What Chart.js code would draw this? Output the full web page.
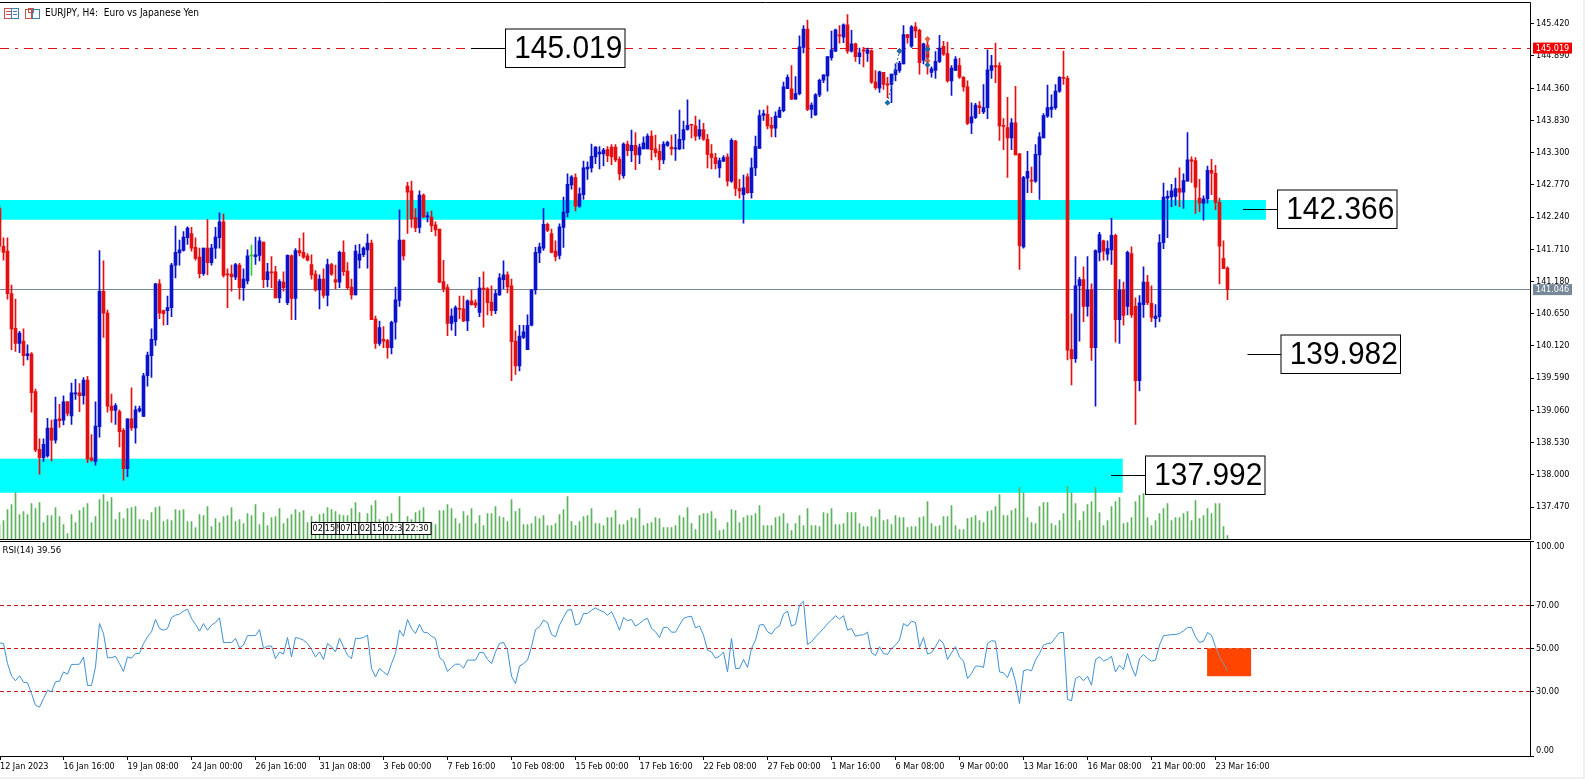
<!DOCTYPE html>
<html><head><meta charset="utf-8">
<style>
html,body{margin:0;padding:0;background:#f0f0f0;overflow:hidden}
#page{position:absolute;left:0;top:0;width:1583px;height:777px;background:#fff}
canvas{position:absolute;left:0}
</style>
<script src="https://cdn.jsdelivr.net/npm/chart.js@4"></script>
</head><body>
<div id="page"></div>
<canvas id="main" width="1585" height="541" style="top:0"></canvas>
<canvas id="rsi" width="1585" height="249" style="top:530px"></canvas>
<script>
const opens=[142.38,141.76,141.68,140.98,140.41,140.16,140.20,139.96,139.99,139.37,
138.42,138.28,138.31,138.77,138.57,138.92,138.90,139.20,138.97,139.33,
139.35,139.30,139.56,138.28,138.22,138.79,141.02,140.66,139.13,139.06,
139.04,138.73,138.10,138.92,138.77,139.05,138.96,139.63,139.96,140.22,
141.14,140.70,140.70,140.75,141.45,141.65,141.69,141.90,141.97,141.74,
141.58,141.31,141.73,141.49,141.73,141.90,142.16,141.30,141.30,141.25,
141.45,141.08,141.19,141.60,141.59,141.61,141.83,141.21,141.34,141.34,
140.91,141.17,140.83,141.60,140.90,141.69,141.66,141.60,141.46,141.30,
141.04,141.22,140.95,141.46,141.21,141.17,141.66,141.35,141.09,140.96,
141.53,141.62,141.70,141.81,140.56,140.16,140.23,140.21,140.09,140.51,
140.87,141.86,142.75,142.67,142.23,142.07,142.60,142.24,142.24,142.11,
142.04,141.18,141.08,140.49,140.52,140.74,140.73,140.53,140.86,140.83,
140.67,141.07,141.06,140.84,140.70,140.96,141.21,141.29,141.11,140.20,
139.79,140.26,140.06,140.46,141.04,141.65,141.73,142.12,141.97,141.68,
141.61,142.07,142.31,142.77,142.89,142.42,142.61,143.03,143.05,143.23,
143.28,143.28,143.35,143.39,143.39,143.19,142.92,143.44,143.33,143.42,
143.26,143.36,143.36,143.57,143.36,143.32,143.18,143.42,143.39,143.36,
143.36,143.51,143.68,143.76,143.74,143.57,143.68,143.52,143.28,143.22,
143.05,143.16,143.23,142.83,143.49,142.71,142.61,142.90,142.64,143.05,
143.37,143.91,143.93,143.75,143.70,143.88,143.99,144.35,144.35,144.18,
144.27,145.03,145.33,144.01,143.92,144.25,144.49,144.56,144.86,144.97,
145.23,145.20,145.40,144.97,145.09,144.88,144.99,144.93,144.98,144.46,
144.36,144.62,144.43,144.42,144.58,144.65,144.76,145.24,145.05,145.37,
145.31,144.82,145.07,144.62,144.65,144.80,145.05,144.93,144.48,144.65,
144.73,144.54,144.38,143.79,143.88,144.07,143.97,144.04,144.65,144.73,
144.73,143.75,143.71,143.54,143.79,143.28,141.75,142.88,142.85,142.83,
143.26,143.54,143.90,144.01,144.04,144.31,144.54,144.52,140.06,139.91,
141.11,141.21,140.77,141.04,140.09,141.66,141.85,141.63,141.70,141.94,
140.55,141.04,140.77,141.64,140.77,139.55,140.80,141.17,140.82,140.57,
140.60,141.82,142.55,142.57,142.58,142.71,142.65,142.83,143.18,143.17,
142.55,142.47,142.54,143.01,142.96,142.48,141.56,141.40];
const highs=[142.42,141.90,141.90,141.12,140.89,140.36,140.40,140.14,140.01,139.41,
138.59,138.59,138.93,138.90,139.28,139.16,139.30,139.21,139.51,139.57,
139.50,139.60,139.62,138.66,139.20,141.69,141.52,140.71,139.33,139.17,
139.07,138.76,138.92,139.43,139.13,139.13,139.67,140.02,140.40,141.15,
141.21,140.71,140.94,141.48,142.09,141.86,142.00,142.08,142.07,141.90,
141.73,141.73,142.20,141.79,142.07,142.31,142.29,141.39,141.45,141.48,
141.48,141.39,141.70,141.78,141.91,141.91,141.83,141.48,141.59,141.43,
141.21,141.34,141.62,141.62,141.72,141.89,141.98,141.64,141.62,141.36,
141.29,141.39,141.55,141.48,141.45,141.68,141.85,141.49,141.22,141.78,
141.79,141.75,141.96,141.86,140.61,140.53,140.44,140.23,140.53,141.09,
142.36,141.86,142.81,142.83,142.38,142.67,142.62,142.32,142.34,142.16,
142.04,141.53,141.13,140.73,140.78,140.94,140.94,140.88,141.04,140.88,
141.25,141.34,141.08,141.11,141.04,141.31,141.52,141.34,141.22,140.37,
140.46,140.46,140.63,141.05,141.74,141.81,142.38,142.14,142.04,141.85,
142.13,142.57,142.95,142.92,142.95,142.72,143.16,143.15,143.44,143.40,
143.40,143.37,143.40,143.43,143.43,143.23,143.46,143.49,143.67,143.63,
143.44,143.56,143.61,143.66,143.59,143.43,143.48,143.49,143.59,143.60,
144.00,143.82,144.17,143.77,143.90,143.84,143.78,143.60,143.43,143.29,
143.21,143.25,143.28,143.53,143.50,142.86,142.93,142.95,143.21,143.57,
144.00,144.00,144.07,143.88,143.97,144.05,144.46,144.58,144.73,144.55,
145.22,145.39,145.48,144.12,144.27,144.51,144.58,144.88,145.30,145.33,
145.39,145.42,145.57,145.31,145.10,145.02,145.03,145.02,144.99,144.65,
144.64,144.62,144.54,144.59,144.76,144.80,145.39,145.24,145.39,145.44,
145.33,145.10,145.19,144.71,144.96,145.23,145.13,145.12,144.73,144.88,
144.85,144.55,144.48,144.12,144.11,144.14,144.42,144.99,144.90,145.10,
144.78,143.86,144.21,143.86,144.39,143.29,142.91,143.32,143.06,143.43,
143.63,143.94,144.41,144.25,144.42,144.55,144.97,144.56,140.65,141.59,
141.25,141.42,141.59,141.14,141.70,141.99,141.86,141.85,142.22,141.96,
141.21,141.17,141.68,141.75,140.91,140.95,141.42,141.28,141.11,140.80,
141.95,142.80,142.67,142.78,142.88,143.05,142.95,143.63,143.23,143.22,
142.86,142.59,143.08,143.19,143.09,142.55,141.85,141.42];
const lows=[141.68,141.53,140.89,140.06,140.03,140.01,139.80,139.89,139.03,138.38,
138.01,138.22,138.29,138.23,138.52,138.78,138.82,138.97,138.83,139.24,
139.04,139.16,138.20,138.22,138.16,138.62,140.26,139.03,138.86,138.83,
138.46,137.91,137.97,138.73,138.52,139.03,138.96,139.46,139.60,140.13,
140.57,140.46,140.47,140.60,141.24,141.45,141.68,141.79,141.68,141.53,
141.24,141.28,141.29,141.45,141.56,141.73,141.25,140.75,141.02,141.21,
140.89,140.87,141.14,141.28,141.46,141.52,141.08,141.09,141.08,140.91,
140.83,141.02,140.80,140.55,140.55,141.60,141.56,141.52,141.22,141.02,
140.73,140.91,140.78,141.28,141.06,141.08,141.28,141.05,140.89,140.96,
141.40,141.59,141.40,140.55,140.08,140.13,140.09,139.92,139.99,140.23,
140.77,141.53,141.97,142.07,142.00,141.98,142.23,142.16,142.00,141.93,
141.16,141.01,140.29,140.38,140.29,140.57,140.52,140.37,140.79,140.75,
140.60,140.43,140.63,140.62,140.65,140.95,141.06,140.99,139.55,139.65,
139.71,140.24,140.06,140.45,140.97,141.49,141.69,142.00,141.65,141.52,
141.55,141.74,142.24,142.70,142.34,142.40,142.53,142.86,142.98,143.12,
143.03,143.08,143.15,143.10,143.15,142.85,142.88,143.25,143.15,143.02,
143.12,143.36,143.36,143.18,143.23,143.02,143.12,143.40,143.26,143.17,
143.35,143.36,143.67,143.54,143.50,143.52,143.50,143.05,143.03,143.03,
142.89,143.15,142.75,142.81,142.59,142.55,142.14,142.63,142.55,142.92,
143.37,143.83,143.69,143.56,143.56,143.88,143.97,144.35,144.17,144.18,
144.25,144.94,143.99,143.87,143.91,144.22,144.45,144.31,144.82,144.96,
145.10,145.11,144.93,144.95,144.80,144.76,144.71,144.80,144.44,144.34,
144.29,144.34,144.20,144.12,144.48,144.62,144.76,145.10,145.03,145.19,
144.59,144.76,144.59,144.54,144.52,144.78,144.90,144.46,144.24,144.65,
144.52,144.31,143.76,143.61,143.86,143.94,143.94,143.86,144.52,144.45,
143.50,143.35,142.89,143.35,143.26,141.38,141.73,142.64,142.64,142.81,
142.53,143.54,143.88,143.88,144.01,144.29,144.42,139.89,139.48,139.85,
140.20,140.52,140.61,139.88,139.13,141.52,141.53,141.53,141.46,140.18,
140.16,140.46,140.63,140.59,138.83,139.38,140.59,140.80,140.52,140.43,
140.52,141.72,141.90,142.41,142.43,142.41,142.38,142.83,142.81,142.30,
142.33,142.19,142.47,142.61,142.36,141.14,141.39,140.88];
const closes=[141.76,141.66,140.98,140.40,140.16,140.33,139.96,139.99,139.35,138.41,
138.28,138.50,138.77,138.57,138.91,138.89,139.20,139.01,139.35,139.35,
139.30,139.56,138.26,138.24,138.80,141.02,140.66,139.13,139.06,139.14,
138.71,138.10,138.92,138.77,139.07,139.09,139.63,139.97,140.23,141.14,
140.66,140.65,140.75,141.45,141.66,141.70,141.91,142.06,141.73,141.56,
141.31,141.73,141.49,141.73,141.91,142.16,141.28,141.29,141.26,141.46,
141.08,141.22,141.60,141.60,141.62,141.85,141.21,141.34,141.32,140.91,
141.18,141.08,141.61,140.90,141.69,141.65,141.58,141.53,141.29,141.04,
141.22,140.95,141.46,141.30,141.17,141.66,141.34,141.08,140.96,141.68,
141.63,141.73,141.81,140.55,140.16,140.42,140.20,140.09,140.51,140.88,
141.86,141.60,142.65,142.21,142.06,142.60,142.24,142.26,142.10,142.03,
141.17,141.06,140.49,140.61,140.75,140.72,140.53,140.86,140.80,140.79,
141.07,141.05,140.83,140.70,140.98,141.24,141.29,141.09,140.19,139.79,
140.28,140.35,140.46,141.04,141.66,141.75,142.12,142.02,141.66,141.59,
142.08,142.32,142.78,142.90,142.42,142.62,143.05,143.06,143.24,143.39,
143.31,143.34,143.25,143.23,143.18,142.95,143.44,143.33,143.42,143.26,
143.39,143.46,143.57,143.35,143.30,143.18,143.44,143.47,143.36,143.37,
143.52,143.68,143.75,143.75,143.57,143.68,143.52,143.27,143.22,143.12,
143.17,143.22,142.83,143.50,142.71,142.67,142.72,142.64,143.05,143.40,
143.91,143.94,143.74,143.70,143.90,144.00,144.38,144.54,144.18,144.27,
145.04,145.33,144.01,144.08,144.25,144.49,144.58,144.88,144.99,145.32,
145.22,145.40,144.97,145.09,144.88,144.94,144.97,144.99,144.46,144.37,
144.63,144.42,144.41,144.59,144.66,144.77,145.24,145.19,145.37,145.30,
144.78,145.09,144.86,144.68,144.80,145.02,144.92,144.48,144.69,144.84,
144.54,144.38,143.78,143.89,144.08,144.04,144.04,144.66,144.73,144.71,
143.74,143.73,143.54,143.79,143.26,141.77,142.89,142.99,142.83,143.27,
143.56,143.91,144.04,144.05,144.31,144.54,144.52,140.05,139.91,141.11,
141.21,140.77,141.04,140.09,141.69,141.95,141.68,141.72,141.94,140.55,
141.04,140.62,141.66,140.63,139.55,140.83,141.17,140.83,140.59,140.61,
141.82,142.57,142.58,142.67,142.71,142.65,142.84,143.18,143.16,142.73,
142.47,142.54,143.01,142.96,142.48,141.76,141.39,141.046];
const volumes=[15,19,30,35,47,25,28,25,36,31,37,17,24,24,32,23,15,6,25,17,
29,32,36,17,23,40,45,38,42,20,27,21,31,32,33,20,20,19,27,32,
33,18,20,19,30,29,30,18,18,12,25,24,33,13,21,17,23,24,32,18,
20,16,26,24,35,15,27,14,22,23,31,16,21,25,30,27,29,17,23,18,
25,26,32,30,28,25,24,24,31,37,27,17,26,34,39,20,18,23,26,17,
43,17,23,20,27,29,32,16,17,15,29,29,35,31,21,16,28,24,31,16,
24,14,26,26,33,23,22,18,40,28,31,15,15,16,23,21,24,14,14,16,
25,30,43,18,14,18,23,24,31,16,16,14,22,22,29,15,15,19,22,21,
31,14,16,17,22,21,12,12,12,14,24,22,32,16,10,24,26,26,28,21,
9,10,17,30,29,17,22,24,24,26,34,14,14,14,22,23,26,16,9,16,
24,14,31,14,14,13,27,26,31,15,15,16,27,27,27,16,13,13,23,22,
30,19,20,15,24,22,22,12,13,13,22,23,38,16,13,14,23,23,34,14,
10,10,21,22,24,19,17,28,29,33,45,24,24,29,31,52,47,22,17,16,
33,37,37,16,14,19,26,53,47,36,19,28,35,38,52,27,14,19,33,38,
42,16,17,22,38,44,46,22,14,19,26,31,36,19,22,22,26,28,19,39,
21,24,31,26,36,36,13,4];
const rsiValues=[52.6,52.3,43.0,37.3,35.0,37.3,34.3,34.0,29.1,23.6,22.7,26.7,30.6,29.8,34.5,34.8,39.1,38.1,42.6,42.6,
42.7,46.1,32.8,32.8,41.5,61.6,57.0,45.7,45.7,46.4,43.0,39.3,46.1,45.5,47.7,47.7,52.3,55.4,57.8,63.5,
59.3,58.5,59.3,64.4,65.5,66.0,67.4,68.3,64.0,61.2,58.1,61.6,58.5,60.9,62.1,64.3,52.8,52.8,52.8,54.7,
50.3,51.6,56.0,56.0,56.0,58.8,50.0,51.1,51.1,45.3,48.4,47.4,55.1,46.1,55.1,54.7,53.9,52.3,49.5,46.1,
48.4,44.9,52.3,50.8,48.4,54.7,50.8,46.9,45.3,54.7,54.7,55.1,56.2,40.7,36.8,40.7,39.1,37.6,43.0,47.7,
58.5,55.7,63.5,59.3,57.0,61.2,57.6,57.3,55.7,54.7,45.8,44.3,39.3,41.2,42.7,42.7,40.9,44.6,44.6,44.6,
48.1,48.1,44.9,43.0,48.4,52.3,52.9,49.2,37.1,33.7,41.8,43.0,44.6,50.8,58.8,60.1,63.2,62.1,56.5,55.4,
60.9,64.4,67.8,68.1,60.9,61.6,66.3,66.3,67.8,68.9,67.8,67.1,65.5,67.1,63.2,58.5,64.4,62.9,63.5,60.4,
61.6,63.2,64.0,59.3,57.8,55.1,59.8,59.8,57.6,57.6,60.9,64.0,64.7,65.0,59.6,60.5,56.2,49.2,48.4,45.5,
46.4,48.4,39.1,54.7,40.7,40.7,44.9,41.2,50.0,53.9,60.9,61.2,57.8,56.7,59.3,60.5,66.0,67.4,60.4,61.3,
70.2,72.0,51.9,53.1,55.4,57.3,59.3,61.6,63.2,65.3,63.6,65.3,58.5,59.3,55.7,56.2,56.4,57.6,48.0,46.7,
50.8,47.7,47.2,50.0,51.6,53.9,61.6,60.4,62.7,62.1,50.5,55.1,47.4,48.1,50.8,54.2,52.3,44.9,48.0,50.8,
46.1,44.1,36.0,38.4,41.8,41.8,41.2,52.3,53.6,53.4,39.1,38.7,36.5,41.2,34.5,24.4,39.6,40.2,39.6,44.6,
47.7,51.6,52.3,52.6,55.1,57.4,57.4,26.3,25.7,36.0,37.1,35.0,37.1,32.9,44.9,46.1,44.3,44.9,46.4,39.1,
42.2,40.2,47.7,41.5,37.1,45.3,47.2,45.3,44.1,44.6,51.6,56.0,56.2,56.5,56.5,57.0,58.2,59.8,59.8,55.4,
52.8,53.4,57.4,56.2,50.8,46.1,43.0,39.56];
const dateLabels=['12 Jan 2023','16 Jan 16:00','19 Jan 08:00','24 Jan 00:00','26 Jan 16:00','31 Jan 08:00','3 Feb 00:00','7 Feb 16:00','10 Feb 08:00','15 Feb 00:00','17 Feb 16:00','22 Feb 08:00','27 Feb 00:00','1 Mar 16:00','6 Mar 08:00','9 Mar 00:00','13 Mar 16:00','16 Mar 08:00','21 Mar 00:00','23 Mar 16:00'];
const priceTicks=[145.42,144.89,144.36,143.83,143.30,142.77,142.24,141.71,141.18,140.65,140.12,139.59,139.06,138.53,138.00,137.47];
const rsiTicks=[100,70,50,30,0];
const rsiLevels=[70,50,30];
const zoneTops=[142.52,138.265];
const zoneBottoms=[142.196,137.705];
const zoneEnds=[316.6,280.8];
const resistanceLine=145.019, lastPrice=141.046;
const callouts=[
 {value:145.019,text:'145.019',boxLeft:505.5,boxW:119.5,lineFrom:471},
 {value:142.366,text:'142.366',boxLeft:1277.5,boxW:119.5,lineFrom:1243},
 {value:139.982,text:'139.982',boxLeft:1281,boxW:119.5,lineFrom:1247.5},
 {value:137.992,text:'137.992',boxLeft:1145.5,boxW:119.5,lineFrom:1111}
];
const markerBlue=[{x:222,y:144.12},{x:225,y:144.97}];
const markerBlue2=[{x:232,y:145.0},{x:232,y:144.74}];
const markerRed=[{x:232,y:145.17},{x:232,y:144.81}];
const markerRed2=[{x:225,y:144.97}];
const timeTags=[['02',311.5,12.5],['15',324,12],['!',336,3.5],['07',339.5,12],['1',351.5,7.5],['02',359,12],['15',371,12.5],['02:3',383.5,19.5],['22:30',403,28]];

const UI='"DejaVu Sans Condensed","DejaVu Sans",sans-serif';
const xMin=0.125,xMax=382.625;
const RED='#e60f0f',BLUE='#0a12cc',DOJI='#33cc33';
const candleColor=i=>closes[i]>opens[i]?BLUE:(closes[i]<opens[i]?RED:DOJI);
const wicks=highs.map((h,i)=>({x:i,y:[lows[i],h]}));
const bodies=opens.map((o,i)=>({x:i,y:[Math.min(o,closes[i]),Math.max(o,closes[i])]}));
const volumeBars=volumes.map((v,i)=>({x:i,y:v}));
const rsiPoints=rsiValues.map((v,i)=>({x:i,y:v}));

function fixY(width){return s=>{s.width=width;s.paddingTop=0;s.paddingBottom=0;};}

function hframe(ctx,a){
 ctx.save();ctx.strokeStyle='#000';ctx.lineWidth=1;ctx.beginPath();
 const t=Math.floor(a.top)+.5,b=Math.floor(a.bottom)+.5,r=Math.floor(a.right)+.5;
 ctx.moveTo(a.left,t);ctx.lineTo(r,t);ctx.lineTo(r,b);ctx.lineTo(a.left,b);ctx.stroke();ctx.restore();
}

const mainPlugin={id:'mainPlugin',
 beforeDatasetsDraw(c){
  const {ctx,chartArea:a,scales:{x,y}}=c;
  ctx.save();
  ctx.fillStyle='#00ffff';
  zoneTops.forEach((v,k)=>{
    const yt=y.getPixelForValue(v),yb=y.getPixelForValue(zoneBottoms[k]);
    ctx.fillRect(a.left,yt,x.getPixelForValue(zoneEnds[k])-a.left,yb-yt);
  });
  ctx.lineWidth=1;
  let yy=Math.floor(y.getPixelForValue(lastPrice))+.5;
  ctx.strokeStyle='#778899';ctx.beginPath();ctx.moveTo(a.left,yy);ctx.lineTo(a.right,yy);ctx.stroke();
  yy=Math.floor(y.getPixelForValue(resistanceLine))+.5;
  ctx.strokeStyle='#e01010';ctx.setLineDash([9,6,3,6]);ctx.beginPath();ctx.moveTo(a.left,yy);ctx.lineTo(a.right,yy);ctx.stroke();
  ctx.restore();
 },
 afterDatasetsDraw(c){
  const {ctx,chartArea:a,scales:{y}}=c;
  ctx.save();
  // callouts
  callouts.forEach(k=>{
    const yy=Math.round(y.getPixelForValue(k.value))+.5;
    ctx.strokeStyle='#000';ctx.lineWidth=1;
    ctx.beginPath();ctx.moveTo(k.lineFrom,yy);ctx.lineTo(k.boxLeft,yy);ctx.stroke();
    ctx.fillStyle='#fff';ctx.fillRect(k.boxLeft,yy-19.5,k.boxW,38.5);
    ctx.strokeRect(k.boxLeft,yy-19.5,k.boxW,38.5);
    ctx.fillStyle='#000';ctx.font='32px "Liberation Sans",sans-serif';ctx.textAlign='center';ctx.textBaseline='middle';
    ctx.fillText(k.text,k.boxLeft+k.boxW/2+3,yy+1,108);
  });
  // scale time tags
  ctx.font='9px '+UI;ctx.textAlign='center';ctx.textBaseline='middle';
  ctx.strokeStyle='#000';
  timeTags.forEach(t=>{
    const [s,l,w]=t;
    ctx.fillStyle='#fff';ctx.fillRect(l,522.5,w,12);ctx.strokeRect(l,522.5,w,12);
    ctx.fillStyle='#000';ctx.fillText(s,l+w/2,529);
  });
  // price tags
  [[resistanceLine,'#f00000'],[lastPrice,'#778899']].forEach(([v,col])=>{
    const yy=y.getPixelForValue(v);
    ctx.fillStyle=col;ctx.fillRect(1533,yy-5.5,39,11);
    ctx.fillStyle='#fff';ctx.textAlign='center';ctx.font='9px '+UI;ctx.fillText(v.toFixed(3),1552.5,yy+.5);
  });
  // title + icons
  ctx.lineWidth=1;
  ctx.strokeStyle='#c8504a';ctx.strokeRect(4.5,8.5,7,10);
  ctx.strokeStyle='#3a7fb5';ctx.strokeRect(11.5,8.5,7,10);
  ctx.strokeStyle='#c8504a';ctx.beginPath();for(const t of [11.5,14.5]){ctx.moveTo(6,t);ctx.lineTo(11,t);}ctx.stroke();
  ctx.strokeStyle='#3a7fb5';ctx.beginPath();for(const t of [11.5,14.5]){ctx.moveTo(13,t);ctx.lineTo(17,t);}ctx.stroke();
  ctx.strokeStyle='#c8504a';ctx.strokeRect(25.5,9.5,6,9);ctx.strokeRect(28.5,8.5,5,4);
  ctx.strokeStyle='#3a7fb5';ctx.strokeRect(32.5,9.5,7,9);
  ctx.fillStyle='#000';ctx.textAlign='left';ctx.textBaseline='middle';ctx.font='10px '+UI;
  ctx.fillText('EURJPY, H4:  Euro vs Japanese Yen',45,13.5);
  ctx.restore();
  hframe(ctx,a);
 }
};

new Chart(document.getElementById('main'),{
 type:'bar',
 plugins:[mainPlugin],
 data:{datasets:[
  {type:'line',data:markerBlue,order:0,borderColor:'#1b6fa8',borderWidth:1,borderDash:[2,2],backgroundColor:'#1b6fa8',pointStyle:'rectRot',pointRadius:3,pointBorderWidth:0,yAxisID:'y'},
  {type:'line',data:markerBlue2,order:0,borderColor:'#1b6fa8',borderWidth:1,borderDash:[2,2],backgroundColor:'#1b6fa8',pointStyle:'rectRot',pointRadius:3,pointBorderWidth:0,yAxisID:'y'},
  {type:'line',data:markerRed,order:0,borderColor:'#e0503c',borderWidth:2,borderDash:[3,3],backgroundColor:'#e0603c',pointStyle:'rectRot',pointRadius:3,pointBorderWidth:0,yAxisID:'y'},
  {type:'line',data:markerRed2,order:0,showLine:false,backgroundColor:'#e0603c',pointStyle:'rectRot',pointRadius:3,pointBorderWidth:0,yAxisID:'y'},
  {data:bodies,order:1,yAxisID:'y',grouped:false,maxBarThickness:3,barPercentage:1,categoryPercentage:1,minBarLength:1,borderWidth:0,
   backgroundColor:c=>candleColor(c.dataIndex)},
  {data:wicks,order:2,yAxisID:'y',grouped:false,maxBarThickness:1,barPercentage:1,categoryPercentage:1,borderWidth:0,
   backgroundColor:c=>candleColor(c.dataIndex)},
  {data:volumeBars,order:3,yAxisID:'yVol',grouped:false,maxBarThickness:1,barPercentage:1,categoryPercentage:1,borderWidth:0,backgroundColor:'#5cb35c'}
 ]},
 options:{responsive:false,animation:false,devicePixelRatio:1,
  layout:{autoPadding:false,padding:{top:2.5,bottom:1.5,left:0,right:0}},
  plugins:{legend:{display:false},tooltip:{enabled:false}},
  scales:{
   x:{type:'linear',min:xMin,max:xMax,offset:false,display:true,border:{display:false},grid:{offset:false,display:false,drawTicks:false},ticks:{display:false},
      afterFit:s=>{s.height=0;s.paddingLeft=0;s.paddingRight=0;s.paddingTop=0;s.paddingBottom=0;}},
   y:{type:'linear',position:'right',min:136.936,max:145.769,bounds:'data',
      afterBuildTicks:s=>{s.ticks=priceTicks.map(v=>({value:v}));},
      afterFit:fixY(55),
      border:{display:false},
      grid:{drawOnChartArea:false,tickLength:4,tickColor:'#000',tickWidth:1},
      ticks:{color:'#000',padding:2,font:{family:UI,size:9},callback:v=>Number(v).toFixed(3)}},
   yVol:{type:'linear',display:true,min:0,max:537,position:'left',border:{display:false},grid:{display:false,drawTicks:false},ticks:{display:false},
      afterFit:s=>{s.width=0;s.paddingTop=0;s.paddingBottom=0;s.paddingLeft=0;s.paddingRight=0;}}
  }
 }
});

const rsiPlugin={id:'rsiPlugin',
 beforeDatasetsDraw(c){
  const {ctx,chartArea:a,scales:{x,y}}=c;
  ctx.save();
  ctx.strokeStyle='#c81414';ctx.lineWidth=1;ctx.setLineDash([4,3]);
  rsiLevels.forEach(l=>{const yy=Math.floor(y.getPixelForValue(l))+.5;ctx.beginPath();ctx.moveTo(a.left,yy);ctx.lineTo(a.right,yy);ctx.stroke();});
  ctx.setLineDash([]);
  ctx.fillStyle='#ff4500';
  const xl=x.getPixelForValue(301.9),xr=x.getPixelForValue(312.9),yt=y.getPixelForValue(50.1),yb=y.getPixelForValue(37.1);
  ctx.fillRect(xl,yt,xr-xl,yb-yt);
  ctx.restore();
 },
 afterDatasetsDraw(c){
  const {ctx,chartArea:a}=c;
  hframe(ctx,a);
  ctx.save();ctx.fillStyle='#000';ctx.font='9.5px '+UI;ctx.textBaseline='middle';ctx.textAlign='left';
  ctx.fillText('RSI(14) 39.56',2.5,a.top+10);ctx.restore();
 }
};

new Chart(document.getElementById('rsi'),{
 type:'line',
 plugins:[rsiPlugin],
 data:{datasets:[{data:rsiPoints,borderColor:'#3f90d4',borderWidth:1,pointRadius:0,tension:0,
   segment:{borderColor:s=>s.p0DataIndex>=304?'#8797a8':undefined}}]},
 options:{responsive:false,animation:false,devicePixelRatio:1,
  layout:{autoPadding:false,padding:{top:11,bottom:0,left:0,right:0}},
  plugins:{legend:{display:false},tooltip:{enabled:false}},
  scales:{
   x:{type:'linear',min:xMin,max:xMax,bounds:'data',
      afterBuildTicks:s=>{s.ticks=dateLabels.map((d,k)=>({value:k===0?xMin:k*16}));},
      afterFit:s=>{s.height=23;s.paddingLeft=0;s.paddingRight=0;},
      border:{display:false},
      grid:{drawOnChartArea:false,tickLength:4,tickColor:'#000'},
      ticks:{color:'#000',align:'start',maxRotation:0,minRotation:0,autoSkip:false,padding:1,font:{family:UI,size:9},
        callback:(v,k)=>dateLabels[k]}},
   y:{type:'linear',position:'right',min:0,max:100,bounds:'data',
      afterBuildTicks:s=>{s.ticks=rsiTicks.map(v=>({value:v}));},
      afterFit:fixY(55),
      border:{display:false},
      grid:{drawOnChartArea:false,tickLength:4,tickColor:'#000'},
      ticks:{color:'#000',padding:2,font:{family:UI,size:9},
        callback:v=>{const t=Number(v).toFixed(2);return v===100?['',t]:v===0?[t,'']:t;}}}
  }
 }
});
</script>
</body></html>
